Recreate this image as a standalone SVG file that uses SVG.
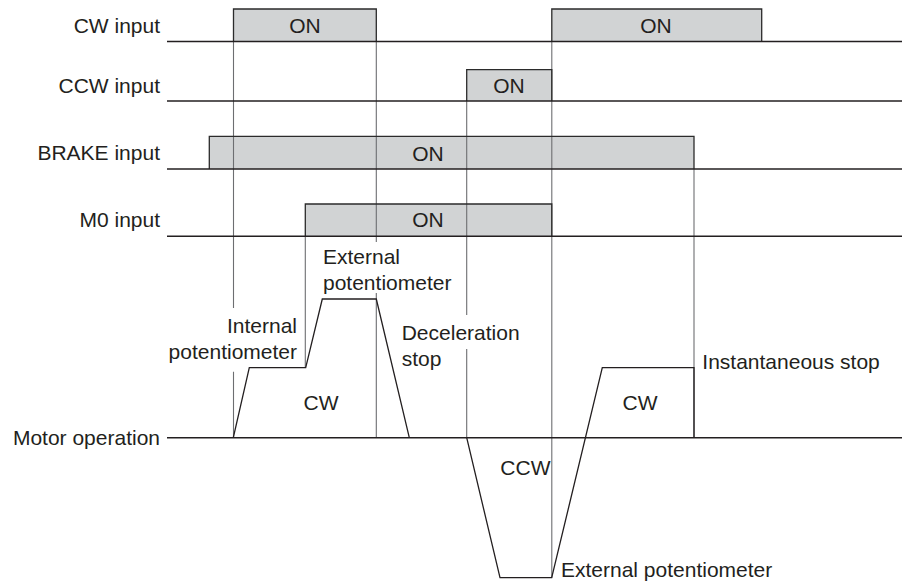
<svg xmlns="http://www.w3.org/2000/svg" width="902" height="581" viewBox="0 0 902 581">
<style>
text{font-family:"Liberation Sans",Arial,sans-serif;font-size:21px;fill:#231f20}
.lbl{text-anchor:end}
.mid{text-anchor:middle}
.fill{fill:#d1d3d4;stroke:none}
.edge{fill:none;stroke:#2b2b2b;stroke-width:1.3}
.base{fill:none;stroke:#231f20;stroke-width:1.4}
.guide{fill:none;stroke:#6d6e71;stroke-width:1.1}
.wave{fill:none;stroke:#231f20;stroke-width:1.3;stroke-linejoin:miter}
</style>
<rect width="902" height="581" fill="#fff"/>

<!-- box fills -->
<g id="fills">
<rect class="fill" x="233.5" y="9" width="142.8" height="32.5"/>
<rect class="fill" x="551.8" y="9" width="209.9" height="32.5"/>
<rect class="fill" x="466.7" y="69.7" width="85.1" height="31.3"/>
<rect class="fill" x="209.3" y="136.3" width="484.7" height="32.7"/>
<rect class="fill" x="305.3" y="204" width="246.5" height="32.3"/>
</g>

<!-- guide lines -->
<g id="connectors">
<path class="guide" d="M233.5,41.5V308M233.5,371.7V437.7"/>
<path class="guide" d="M376.3,41.5V242M376.3,293V437.7"/>
<path class="guide" d="M466.7,101V315M466.7,349V437.7"/>
<path class="guide" d="M551.8,41.5V577.7"/>
<path class="guide" d="M694,169V437.7"/>
<path class="guide" d="M305.3,236.3V367.7"/>
</g>

<g id="cw-input">
<path class="edge" d="M233.5,41.5V9H376.3V41.5M551.8,41.5V9H761.7V41.5"/>
<path class="base" d="M167,41.5H902"/>
<text class="lbl" x="160" y="33.3">CW input</text>
<text class="mid" x="305" y="33.3">ON</text>
<text class="mid" x="656" y="33.3">ON</text>
</g>

<g id="ccw-input">
<path class="edge" d="M466.7,101V69.7H551.8V101"/>
<path class="base" d="M167,101H902"/>
<text class="lbl" x="160" y="92.5">CCW input</text>
<text class="mid" x="509" y="92.5">ON</text>
</g>

<g id="brake-input">
<path class="edge" d="M209.3,169V136.3H694V169"/>
<path class="base" d="M167,169H902"/>
<text class="lbl" x="160" y="160.3">BRAKE input</text>
<text class="mid" x="428" y="160.5">ON</text>
</g>

<g id="m0-input">
<path class="edge" d="M305.3,236.3V204H551.8V236.3"/>
<path class="base" d="M167,236.3H902"/>
<text class="lbl" x="160" y="226.7">M0 input</text>
<text class="mid" x="428" y="226.7">ON</text>
</g>

<g id="motor-operation">
<path class="base" d="M167,437.7H902"/>
<path class="wave" d="M233.3,437.7L249.3,367.7H305.7L322.3,299H376.3L409.3,437.7"/>
<path class="wave" d="M466.7,437.7L500,577.7H551.7L602.3,367.7H694V437.7"/>
<text class="lbl" x="160" y="445">Motor operation</text>
<text x="323" y="263.5">External</text>
<text x="323" y="289.5">potentiometer</text>
<text class="lbl" x="297" y="333">Internal</text>
<text class="lbl" x="297" y="358.5">potentiometer</text>
<text x="401.7" y="340">Deceleration</text>
<text x="401.7" y="365.5">stop</text>
<text x="702.3" y="368.5">Instantaneous stop</text>
<text class="mid" x="321" y="409.5">CW</text>
<text class="mid" x="640" y="409.5">CW</text>
<text class="mid" x="525.4" y="474.5">CCW</text>
<text x="561" y="577">External potentiometer</text>
</g>
</svg>
